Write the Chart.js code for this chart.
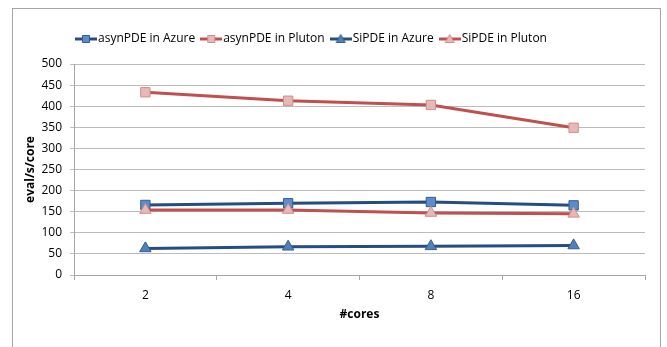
<!DOCTYPE html>
<html>
<head>
<meta charset="utf-8">
<script src="https://cdn.jsdelivr.net/npm/chart.js@4.4.1/dist/chart.umd.min.js"></script>
<style>
    body { margin: 0; background: #fff; }
    #wrap { position: relative; width: 667px; height: 347px; overflow: hidden; }
    #frame { position: absolute; left: 12px; top: 8px; width: 647px; height: 400px; border: 1px solid #a6a6a6; }
    #chart { position: absolute; left: 0; top: 0; }
</style>
</head>
<body>
<div id="wrap">
    <div id="frame"></div>
    <canvas id="chart" width="667" height="347"></canvas>
</div>
<script>
var cores = ["2", "4", "8", "16"];
var asynAzure = [166, 170, 173, 165];
var asynPluton = [433, 413, 403, 349];
var siAzure = [63, 67, 68, 70];
var siPluton = [154, 154, 147, 145];
var yTicks = { min: 0, max: 500, step: 50 };

var FONT = "'Open Sans', sans-serif";
var BLUE_LINE = "#254e80";
var RED_LINE = "#c0504d";

function legendIcon(lineColor, fill, border, shape) {
    var c = document.createElement("canvas");
    c.width = 22;
    c.height = 12;
    var g = c.getContext("2d");
    g.strokeStyle = lineColor;
    g.lineWidth = 3;
    g.beginPath();
    g.moveTo(0, 6);
    g.lineTo(22, 6);
    g.stroke();
    g.fillStyle = fill;
    g.strokeStyle = border;
    g.lineWidth = 1;
    g.beginPath();
    if (shape === "rect") {
        g.rect(7.5, 2.5, 7, 7);
    } else {
        g.moveTo(11, 1.5);
        g.lineTo(15.5, 9.5);
        g.lineTo(6.5, 9.5);
        g.closePath();
    }
    g.fill();
    g.stroke();
    return c;
}

var icons = [
    legendIcon(BLUE_LINE, "#5b8ccc", "#385d8a", "rect"),
    legendIcon(RED_LINE, "#e6b9b8", "#d28c8a", "rect"),
    legendIcon(BLUE_LINE, "#4f81bd", "#385d8a", "triangle"),
    legendIcon(RED_LINE, "#e6b9b8", "#d28c8a", "triangle")
];

function series(label, values, color, fill, border, shape, order) {
    return {
        label: label,
        data: values,
        borderColor: color,
        borderWidth: 3,
        fill: false,
        tension: 0,
        pointStyle: shape,
        pointRadius: 6.6,
        pointHoverRadius: 6.6,
        pointBackgroundColor: fill,
        pointBorderColor: border,
        pointBorderWidth: 1,
        order: order
    };
}

// move the legend where the original sits
var legendPos = {
    id: "legendPos",
    afterLayout: function (chart) {
        chart.legend.left = 70;
        chart.legend.top = 23;
    }
};

var data = {
    labels: cores,
    datasets: [
        series("asynPDE in Azure", asynAzure, BLUE_LINE, "#5b8ccc", "#385d8a", "rect", 4),
        series("asynPDE in Pluton", asynPluton, RED_LINE, "#e6b9b8", "#d28c8a", "rect", 3),
        series("SiPDE in Azure", siAzure, BLUE_LINE, "#4f81bd", "#385d8a", "triangle", 2),
        series("SiPDE in Pluton", siPluton, RED_LINE, "#e6b9b8", "#d28c8a", "triangle", 1)
    ]
};

var options = {
    responsive: false,
    animation: false,
    layout: { padding: { left: 12, right: 22, top: 32, bottom: 24 } },
    plugins: {
        tooltip: { enabled: false },
        legend: {
            position: "top",
            align: "start",
            labels: {
                usePointStyle: true,
                pointStyleWidth: 12,
                padding: 10,
                color: "#000",
                font: { family: FONT, size: 12 },
                generateLabels: function (chart) {
                    return chart.data.datasets.map(function (ds, i) {
                        return {
                            text: ds.label,
                            pointStyle: icons[i],
                            fillStyle: "transparent",
                            strokeStyle: "transparent",
                            lineWidth: 0,
                            hidden: false,
                            datasetIndex: i,
                            fontColor: "#000"
                        };
                    });
                }
            }
        }
    },
    scales: {
        x: {
            offset: true,
            ticks: { color: "#000", font: { family: FONT, size: 12 }, padding: 8 },
            grid: { drawOnChartArea: false, drawTicks: true, tickLength: 5, offset: true, color: "#a6a6a6" },
            border: { color: "#a6a6a6" },
            title: {
                display: true,
                text: "#cores",
                color: "#000",
                font: { family: FONT, size: 12, weight: "bold" },
                padding: { top: 0, bottom: 1 }
            },
            afterFit: function (s) { s.height = 48; }
        },
        y: {
            min: yTicks.min,
            max: yTicks.max,
            ticks: { stepSize: yTicks.step, color: "#000", font: { family: FONT, size: 12 }, padding: 8 },
            grid: { color: "#bcbcbc", tickLength: 4 },
            border: { color: "#a6a6a6" },
            title: {
                display: true,
                text: "eval/s/core",
                color: "#000",
                font: { family: FONT, size: 12, weight: "bold" },
                padding: { top: 11, bottom: 0 }
            },
            afterFit: function (s) { s.width = 62; }
        }
    }
};

var ctx = document.getElementById("chart").getContext("2d");
new Chart(ctx, { type: "line", data: data, options: options, plugins: [legendPos] });
</script>
</body>
</html>
